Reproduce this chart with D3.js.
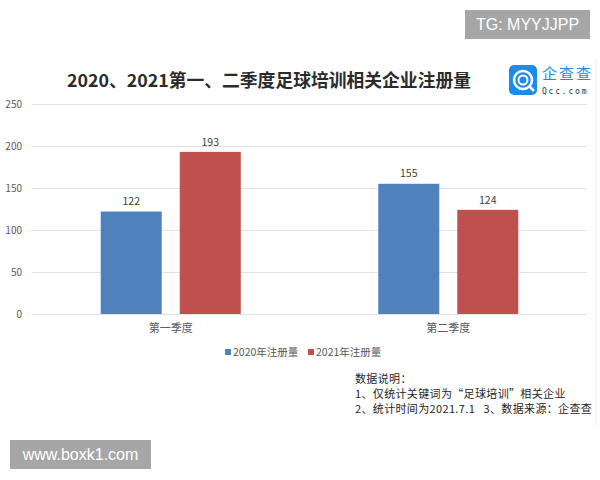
<!DOCTYPE html>
<html lang="zh">
    <head>
        <meta charset="utf-8">
        <title>足球培训相关企业注册量</title>
        <script type="text/javascript" src="https://d3js.org/d3.v7.min.js"></script>
        <style>
            body { margin: 0; background: #fff; }
            text { font-family: "Noto Sans CJK SC", "Noto Sans", sans-serif; }
            .grid line { stroke: #e3e3e3; }
            .grid path { display: none; }
            .note { white-space: pre; }
        </style>
    </head>
    <body>
        <svg id="chart" width="600" height="480"></svg>
    </body>
    <script>
        // data
        let categories = ["第一季度", "第二季度"];
        let seriesNames = ["2020年注册量", "2021年注册量"];
        let values2020 = [122, 155];
        let values2021 = [193, 124];
        let yTicks = [0, 50, 100, 150, 200, 250];
        let notes = ["数据说明：", "1、仅统计关键词为“足球培训”相关企业", "2、统计时间为2021.7.1   3、数据来源：企查查"];

        let colors = ["#4f81bd", "#c0504d"];
        let svg = d3.select("#chart");

        let margin = {left: 32, right: 13, top: 104, bottom: 166};
        let plotW = 600 - margin.left - margin.right;
        let plotH = 480 - margin.top - margin.bottom;

        let yScale = d3.scaleLinear().domain([0, 250]).range([plotH, 0]);
        let x0 = d3.scaleBand().domain(categories).range([0, plotW]);
        let x1 = d3.scaleBand().domain(seriesNames).range([0, x0.bandwidth()])
                    .paddingInner(0.228).paddingOuter(0.87);

        let plot = svg.append("g")
            .attr("transform", "translate(" + margin.left + "," + margin.top + ")");

        // gridlines
        plot.append("g")
            .attr("class", "grid")
            .call(d3.axisLeft(yScale).tickValues(yTicks).tickSize(-plotW).tickFormat(""));

        // y tick labels
        plot.selectAll(".ylab")
            .data(yTicks)
            .enter().append("text")
            .attr("x", -10)
            .attr("y", d => yScale(d))
            .attr("dy", "0.35em")
            .attr("text-anchor", "end")
            .attr("fill", "#595959")
            .attr("font-size", 10)
            .text(d => d);

        // bars
        let rows = categories.map((c, i) => ({cat: c, vals: [values2020[i], values2021[i]]}));
        let groups = plot.selectAll(".grp")
            .data(rows)
            .enter().append("g")
            .attr("transform", d => "translate(" + x0(d.cat) + ",0)");

        let cells = groups.selectAll(".bar")
            .data(d => d.vals.map((v, j) => ({name: seriesNames[j], v: v, j: j})))
            .enter();

        cells.append("rect")
            .attr("x", d => x1(d.name))
            .attr("y", d => yScale(d.v))
            .attr("width", x1.bandwidth())
            .attr("height", d => plotH - yScale(d.v))
            .attr("fill", d => colors[d.j]);

        cells.append("text")
            .attr("x", d => x1(d.name) + x1.bandwidth() / 2)
            .attr("y", d => yScale(d.v) - 10)
            .attr("dy", "0.35em")
            .attr("text-anchor", "middle")
            .attr("fill", "#404040")
            .attr("font-size", 10.5)
            .text(d => d.v);

        // category labels
        plot.selectAll(".cat")
            .data(categories)
            .enter().append("text")
            .attr("x", d => x0(d) + x0.bandwidth() / 2)
            .attr("y", plotH + 14)
            .attr("dy", "0.35em")
            .attr("text-anchor", "middle")
            .attr("fill", "#595959")
            .attr("font-size", 11)
            .text(d => d);

        // legend
        let legend = svg.append("g").attr("transform", "translate(225,352)");
        let legX = [0, 83];
        seriesNames.forEach((s, i) => {
            legend.append("rect")
                .attr("x", legX[i]).attr("y", -3)
                .attr("width", 6).attr("height", 6)
                .attr("fill", colors[i]);
            legend.append("text")
                .attr("x", legX[i] + 8).attr("y", 0)
                .attr("dy", "0.35em")
                .attr("fill", "#595959")
                .attr("font-size", 10.5)
                .text(s);
        });

        // title
        svg.append("text")
            .attr("x", 67).attr("y", 81)
            .attr("dy", "0.35em")
            .attr("font-size", 17.8)
            .attr("font-weight", "bold")
            .attr("fill", "#2b2b2b")
            .text("2020、2021第一、二季度足球培训相关企业注册量");

        // notes
        svg.selectAll(".note")
            .data(notes)
            .enter().append("text")
            .attr("class", "note")
            .attr("x", 355)
            .attr("y", (d, i) => 379 + i * 15)
            .attr("dy", "0.35em")
            .attr("font-size", 11)
            .attr("letter-spacing", 0.35)
            .attr("fill", "#262626")
            .text(d => d);

        // logo
        let logo = svg.append("g").attr("transform", "translate(509,65)");
        logo.append("rect").attr("width", 28).attr("height", 30).attr("rx", 5).attr("fill", "#1b8de8");
        logo.append("circle").attr("cx", 14).attr("cy", 15).attr("r", 9)
            .attr("fill", "none").attr("stroke", "#fff").attr("stroke-width", 2.5);
        logo.append("circle").attr("cx", 14).attr("cy", 15).attr("r", 4.5)
            .attr("fill", "none").attr("stroke", "#fff").attr("stroke-width", 2);
        logo.append("line").attr("x1", 20).attr("y1", 21).attr("x2", 25).attr("y2", 26)
            .attr("stroke", "#fff").attr("stroke-width", 2.5);
        svg.append("text").attr("x", 542).attr("y", 74).attr("dy", "0.35em")
            .attr("font-size", 15).attr("fill", "#1b8de8").attr("letter-spacing", 2)
            .text("企查查");
        svg.append("text").attr("x", 542).attr("y", 91).attr("dy", "0.35em")
            .attr("font-size", 8).attr("fill", "#333").attr("letter-spacing", 1.8)
            .style("font-family", "'DejaVu Sans Mono', monospace")
            .text("Qcc.com");

        // faint frame line at right
        svg.append("line").attr("x1", 596).attr("x2", 596).attr("y1", 58).attr("y2", 425)
            .attr("stroke", "#ececec");

        // watermarks
        let marks = [{t: "TG: MYYJJPP", x: 465, y: 10, w: 125, h: 29},
                     {t: "www.boxk1.com", x: 10, y: 440, w: 141, h: 29}];
        marks.forEach(m => {
            svg.append("rect").attr("x", m.x).attr("y", m.y).attr("width", m.w).attr("height", m.h)
                .attr("fill", "#a6a6a6");
            svg.append("text").attr("x", m.x + m.w / 2).attr("y", m.y + m.h / 2)
                .attr("dy", "0.35em").attr("text-anchor", "middle")
                .style("font-family", "'Liberation Sans', Arial, sans-serif")
                .attr("font-size", 16).attr("fill", "#fff")
                .text(m.t);
        });
    </script>
</html>
